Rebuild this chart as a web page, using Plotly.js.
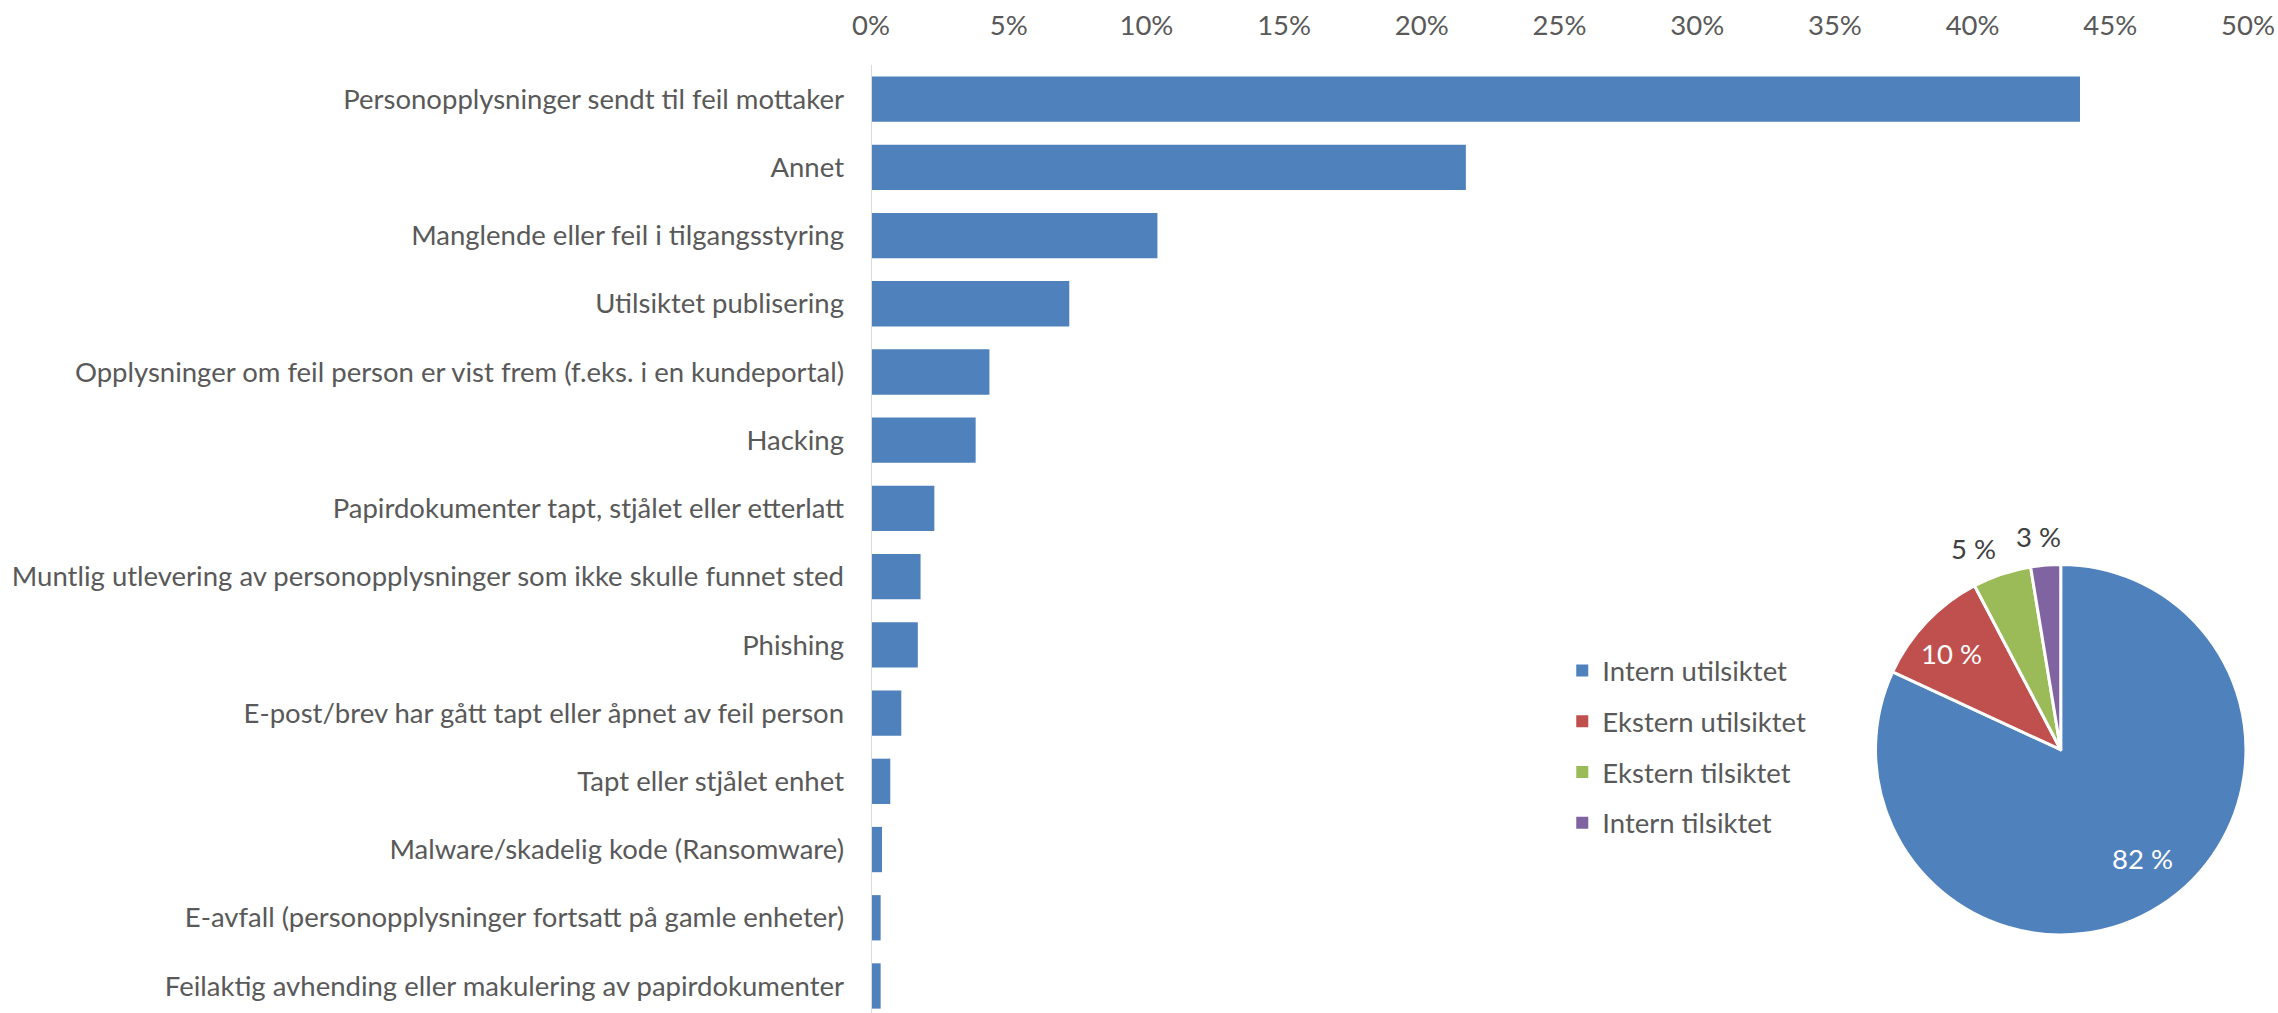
<!DOCTYPE html>
<html>
<head>
<meta charset="utf-8">
<script src="https://cdn.plot.ly/plotly-3.0.1.min.js"></script>
<style>html,body{margin:0;padding:0;background:#fff;}#chart{width:2278px;height:1013px;}</style>
</head>
<body>
<div id="chart"></div>
<script>
const categories = [
  "Personopplysninger sendt til feil mottaker",
  "Annet",
  "Manglende eller feil i tilgangsstyring",
  "Utilsiktet publisering",
  "Opplysninger om feil person er vist frem (f.eks. i en kundeportal)",
  "Hacking",
  "Papirdokumenter tapt, stjålet eller etterlatt",
  "Muntlig utlevering av personopplysninger som ikke skulle funnet sted",
  "Phishing",
  "E-post/brev har gått tapt eller åpnet av feil person",
  "Tapt eller stjålet enhet",
  "Malware/skadelig kode (Ransomware)",
  "E-avfall (personopplysninger fortsatt på gamle enheter)",
  "Feilaktig avhending eller makulering av papirdokumenter"
];
const shares = [43.9, 21.6, 10.4, 7.2, 4.3, 3.8, 2.3, 1.8, 1.7, 1.1, 0.7, 0.4, 0.35, 0.35];
const xTicks = [0, 5, 10, 15, 20, 25, 30, 35, 40, 45, 50];

const pieLabels = ["Intern utilsiktet", "Ekstern utilsiktet", "Ekstern tilsiktet", "Intern tilsiktet"];
const pieValues = [81.9, 10.4, 5.1, 2.6];
const pieColors = ["#4F81BD", "#C0504D", "#9BBB59", "#8064A2"];
// label placement (paper fractions) and colours for the slice percentages
const pieLabelPos = [[0.9237, 0.1632], [0.7848, 0.3794], [0.801, 0.4895], [0.848, 0.503]];
const pieLabelColors = ["#ffffff", "#ffffff", "#404040", "#404040"];

const FONT = "Lato, 'Open Sans', sans-serif";
const FS = 27.5;
const TXT = "#595959";

const traces = [
  {
    type: "bar",
    orientation: "h",
    x: shares,
    y: categories,
    marker: {color: "#4F81BD", line: {width: 0}},
    width: 0.664,
    hoverinfo: "skip",
    showlegend: false
  },
  {
    type: "pie",
    labels: pieLabels,
    values: pieValues,
    sort: false,
    direction: "clockwise",
    rotation: 0,
    marker: {colors: pieColors, line: {color: "#ffffff", width: 3}},
    textinfo: "none",
    domain: {x: [0.7295, 0.9985], y: [0.082, 0.4735]},
    hoverinfo: "skip",
    showlegend: false
  }
];

// legend entries for the pie slices
pieLabels.forEach((lab, i) => {
  traces.push({
    type: "scatter",
    mode: "markers",
    x: [null], y: [null],
    name: lab,
    legendgroup: "g" + i,
    marker: {symbol: "square", size: 12, color: pieColors[i]},
    hoverinfo: "skip",
    showlegend: true
  });
});

const annotations = pieValues.map((v, i) => ({
  xref: "paper", yref: "paper",
  x: pieLabelPos[i][0], y: pieLabelPos[i][1],
  xanchor: "center", yanchor: "middle",
  text: Math.round(v) + " %",
  showarrow: false,
  font: {family: FONT, size: FS, color: pieLabelColors[i]}
}));

const layout = {
  width: 2278,
  height: 1013,
  margin: {l: 871, r: 30, t: 65, b: 0, pad: 0},
  paper_bgcolor: "#ffffff",
  plot_bgcolor: "#ffffff",
  font: {family: FONT, size: FS, color: TXT},
  xaxis: {
    side: "top",
    range: [0, 50],
    tickvals: xTicks,
    ticktext: xTicks.map(v => v + "%"),
    showgrid: false,
    zeroline: false,
    showline: false,
    ticks: "",
    ticklabelstandoff: 24,
    tickfont: {family: FONT, size: FS, color: TXT},
    fixedrange: true
  },
  yaxis: {
    type: "category",
    range: [13.396, -0.5],
    showgrid: false,
    zeroline: false,
    showline: false,
    ticks: "",
    ticklabelstandoff: 26,
    tickfont: {family: FONT, size: FS, color: TXT},
    fixedrange: true
  },
  shapes: [{
    type: "line", xref: "x", yref: "paper", x0: 0, x1: 0, y0: 0, y1: 1,
    line: {color: "#D9D9D9", width: 2}
  }],
  annotations: annotations,
  showlegend: true,
  legend: {
    x: 0.502, xanchor: "left",
    y: 0.387, yanchor: "top",
    traceorder: "grouped",
    tracegroupgap: 12,
    font: {family: FONT, size: FS, color: TXT},
    bgcolor: "rgba(0,0,0,0)",
    borderwidth: 0
  }
};

Plotly.newPlot("chart", traces, layout, {displayModeBar: false, staticPlot: true});
</script>
</body>
</html>
